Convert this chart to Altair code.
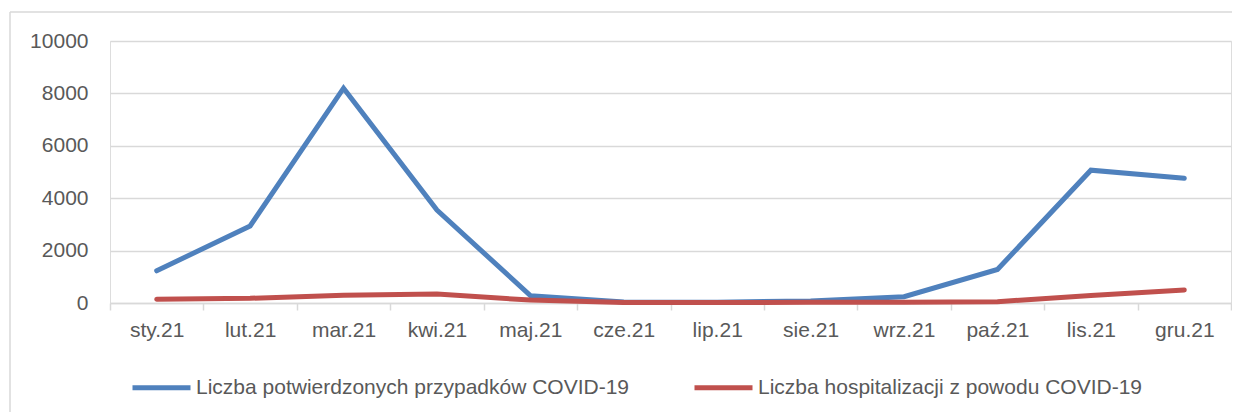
import altair as alt
import pandas as pd

months = ["sty.21", "lut.21", "mar.21", "kwi.21", "maj.21", "cze.21",
          "lip.21", "sie.21", "wrz.21", "paź.21", "lis.21", "gru.21"]
cases = [1230, 2940, 8200, 3550, 280, 40, 30, 80, 240, 1280, 5070, 4760]
hosp = [140, 180, 300, 345, 110, 20, 15, 30, 25, 50, 290, 500]
series_names = ["Liczba potwierdzonych przypadków COVID-19",
                "Liczba hospitalizacji z powodu COVID-19"]
series_colors = ["#4f81bd", "#c0504d"]
y_ticks = [0, 2000, 4000, 6000, 8000, 10000]

rows = []
for m, c, h in zip(months, cases, hosp):
    rows.append({"month": m, "series": series_names[0], "value": c})
    rows.append({"month": m, "series": series_names[1], "value": h})
df = pd.DataFrame(rows)

FONT = "Liberation Sans"
GREY = "#595959"
GRID = "#d9d9d9"

lines = alt.Chart(df).mark_line(strokeWidth=5, strokeCap="round", clip=False).encode(
    x=alt.X("month:N", sort=months, bandPosition=0.5,
            scale=alt.Scale(type="band", paddingInner=0, paddingOuter=0),
            axis=alt.Axis(title=None, labelAngle=0, labelFontSize=21, labelColor=GREY,
                          labelFont=FONT, domainColor=GRID, domainWidth=1.5,
                          tickColor=GRID, tickWidth=1.5, tickSize=7, tickBand="extent",
                          labelPadding=9, grid=False)),
    y=alt.Y("value:Q", scale=alt.Scale(domain=[0, 10000], nice=False),
            axis=alt.Axis(title=None, values=y_ticks, format="d", domain=False, ticks=False,
                          labelFontSize=21, labelColor=GREY, labelFont=FONT,
                          labelPadding=22, gridColor=GRID, gridWidth=1.5)),
    color=alt.Color("series:N",
                    scale=alt.Scale(domain=series_names, range=series_colors),
                    legend=alt.Legend(title=None, orient="none", legendX=20, legendY=315,
                                      direction="horizontal", symbolType="stroke",
                                      symbolSize=3364, symbolStrokeWidth=5,
                                      labelFontSize=21, labelColor=GREY, labelFont=FONT,
                                      labelOffset=3, columnPadding=54, labelLimit=0,
                                      padding=0)),
    detail="series:N",
)

border_top = alt.Chart(pd.DataFrame({"k": [0]})).mark_rule(
    color=GRID, strokeWidth=1.5, clip=False).encode(
    x=alt.value(-100), x2=alt.value(1200), y=alt.value(-29))
border_left = alt.Chart(pd.DataFrame({"k": [0]})).mark_rule(
    color=GRID, strokeWidth=1.5, clip=False).encode(
    x=alt.value(-100), y=alt.value(-29), y2=alt.value(400))

chart = alt.layer(border_top, border_left, lines).properties(
    width=1121, height=262,
    autosize=alt.AutoSizeParams(type="none"),
    padding={"left": 102, "top": 33, "right": 1, "bottom": 109},
).configure_view(stroke=None).configure(background="white")

chart.save("out.html", embed_options={"renderer": "svg", "actions": False})
